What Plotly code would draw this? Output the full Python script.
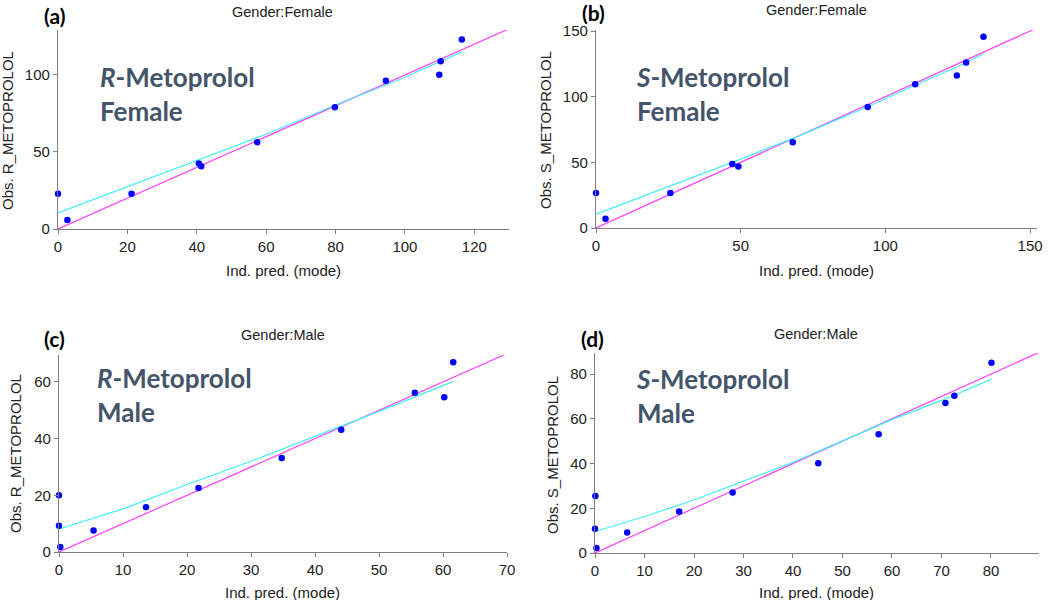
import plotly.graph_objects as go

W, H = 1050, 600

# ---------------- data ----------------
# (a) R-Metoprolol, Female
a_pred = [0.0, 2.7, 21.2, 40.6, 41.3, 57.4, 79.8, 94.5, 109.9, 110.3, 116.4]
a_obs = [22.9, 5.8, 22.9, 42.5, 40.8, 56.4, 79.0, 96.3, 100.2, 108.9, 123.1]
a_smooth_x = [0, 20, 40, 60, 80, 100, 116.4]
a_smooth_y = [10.4, 27.5, 44.5, 61.5, 80.5, 98.5, 115.0]

# (b) S-Metoprolol, Female
b_pred = [0.0, 3.3, 25.7, 47.1, 49.2, 68.0, 93.9, 110.3, 124.7, 127.9, 133.9]
b_obs = [26.6, 7.1, 26.6, 48.8, 46.8, 65.3, 92.1, 109.5, 116.1, 126.0, 145.7]
b_smooth_x = [0, 25, 50, 70, 95, 110, 125, 133.9]
b_smooth_y = [10.6, 31.5, 52.5, 70.0, 93.5, 108.5, 123.0, 132.5]

# (c) R-Metoprolol, Male
c_pred = [0.0, 0.0, 0.2, 5.4, 13.6, 21.8, 34.8, 44.1, 55.6, 60.2, 61.6]
c_obs = [20.0, 9.3, 1.8, 7.6, 15.8, 22.6, 33.2, 43.1, 56.2, 54.6, 66.9]
c_smooth_x = [0, 10, 20, 30, 40, 50, 61.6]
c_smooth_y = [8.1, 15.2, 23.8, 32.0, 40.8, 49.6, 60.2]

# (d) S-Metoprolol, Male
d_pred = [0.07, 0.0, 0.3, 6.5, 17.0, 27.8, 45.1, 57.3, 70.8, 72.6, 80.1]
d_obs = [25.5, 10.8, 2.2, 9.2, 18.5, 27.0, 40.1, 53.1, 67.1, 70.3, 85.0]
d_smooth_x = [0, 10, 20, 30, 40, 50, 60, 70, 80.1]
d_smooth_y = [9.6, 16.3, 23.7, 32.0, 40.5, 50.1, 59.6, 68.2, 77.7]

panel_letters = ["(a)", "(b)", "(c)", "(d)"]
panel_titles = ["Gender:Female", "Gender:Female", "Gender:Male", "Gender:Male"]
y_titles = ["Obs. R_METOPROLOL", "Obs. S_METOPROLOL", "Obs. R_METOPROLOL", "Obs. S_METOPROLOL"]
x_title = "Ind. pred. (mode)"
drug_labels = ["<i>R</i>-Metoprolol<br>Female", "<i>S</i>-Metoprolol<br>Female",
               "<i>R</i>-Metoprolol<br>Male", "<i>S</i>-Metoprolol<br>Male"]
x_ranges = [[0, 130], [0, 152.4], [0, 70], [0, 89.7]]
y_ranges = [[0, 129.2], [0, 150.8], [0, 69.5], [0, 89.4]]
x_dtick = [20, 50, 10, 10]
y_dtick = [50, 50, 20, 20]

# ---------------- layout geometry (pixels) ----------------
# (left, right, top, bottom) of each plot area
boxes = [(58, 509, 30, 229), (596, 1037, 30, 228), (59, 507, 355, 552), (595, 1039, 353, 553)]
letter_pos = [(54, 15), (593, 12), (54, 339), (592, 338)]
title_pos = [(282, 12), (816, 10), (283, 335), (816, 334)]
label_pos = [(98, 59), (634, 59), (95, 360), (634, 361)]
ytitle_pos = [(8, 131), (545, 130), (15, 454), (552, 455)]
xtitle_pos = [(283, 270), (816, 270), (282, 592), (816, 592)]

def px(x):
    return x / W

def py(y):
    return 1 - y / H

fig = go.Figure()

panels = [
    (a_pred, a_obs, a_smooth_x, a_smooth_y),
    (b_pred, b_obs, b_smooth_x, b_smooth_y),
    (c_pred, c_obs, c_smooth_x, c_smooth_y),
    (d_pred, d_obs, d_smooth_x, d_smooth_y),
]

axis_color = "#7f7f7f"
sans = "Liberation Sans, Arial, sans-serif"
tick_font = dict(family=sans, size=15, color="#222222")
annotations = []

for i, (xp, yo, sx, sy) in enumerate(panels):
    n = "" if i == 0 else str(i + 1)
    xa, ya = "x" + n, "y" + n
    l, r, t, b = boxes[i]
    # identity line
    lim = max(x_ranges[i][1], y_ranges[i][1])
    fig.add_trace(go.Scatter(x=[0, lim], y=[0, lim], mode="lines",
                             line=dict(color="#ff40ff", width=1.2),
                             xaxis=xa, yaxis=ya, showlegend=False, hoverinfo="skip"))
    # smoother
    fig.add_trace(go.Scatter(x=sx, y=sy, mode="lines", line=dict(color="#40f0f0", width=1.2),
                             xaxis=xa, yaxis=ya, showlegend=False, hoverinfo="skip"))
    # observations
    fig.add_trace(go.Scatter(x=xp, y=yo, mode="markers",
                             marker=dict(color="#0000ff", size=6.5),
                             xaxis=xa, yaxis=ya, showlegend=False, cliponaxis=False))

    common = dict(showgrid=False, zeroline=False, showline=True, linecolor=axis_color, linewidth=1.3,
                  ticks="outside", ticklen=4, tickcolor=axis_color, tickfont=tick_font, automargin=False)
    fig.update_layout({
        "xaxis" + n: dict(domain=[px(l), px(r)], range=x_ranges[i], dtick=x_dtick[i], tick0=0,
                          anchor=ya, **common),
        "yaxis" + n: dict(domain=[py(b), py(t)], range=y_ranges[i], dtick=y_dtick[i], tick0=0,
                          anchor=xa, **common),
    })

    lx, ly = letter_pos[i]
    annotations.append(dict(text="<b>" + panel_letters[i] + "</b>", x=px(lx), y=py(ly), xref="paper", yref="paper",
                            showarrow=False, xanchor="center", yanchor="middle",
                            font=dict(family="Lato, DejaVu Sans, sans-serif", size=21, color="#000000")))
    tx, ty = title_pos[i]
    annotations.append(dict(text=panel_titles[i], x=px(tx), y=py(ty), xref="paper", yref="paper",
                            showarrow=False, xanchor="center", yanchor="middle",
                            font=dict(family=sans, size=14.5, color="#222222")))
    yx, yy = ytitle_pos[i]
    annotations.append(dict(text=y_titles[i], x=px(yx), y=py(yy), xref="paper", yref="paper",
                            showarrow=False, xanchor="center", yanchor="middle", textangle=-90,
                            font=dict(family=sans, size=15, color="#222222")))
    xx, xy = xtitle_pos[i]
    annotations.append(dict(text=x_title, x=px(xx), y=py(xy), xref="paper", yref="paper",
                            showarrow=False, xanchor="center", yanchor="middle",
                            font=dict(family=sans, size=15, color="#222222")))
    dx, dy = label_pos[i]
    annotations.append(dict(text="<b>" + drug_labels[i] + "</b>", x=px(dx), y=py(dy), xref="paper", yref="paper",
                            showarrow=False, xanchor="left", yanchor="top", align="left",
                            font=dict(family="Lato, Open Sans, sans-serif", size=26, color="#44546a")))

fig.update_layout(width=W, height=H, margin=dict(l=0, r=0, t=0, b=0),
                  paper_bgcolor="white", plot_bgcolor="white", annotations=annotations)

fig.write_html("out.html", config={"displayModeBar": False},
               post_script="document.body.style.margin='0px';document.body.style.overflow='hidden';")
